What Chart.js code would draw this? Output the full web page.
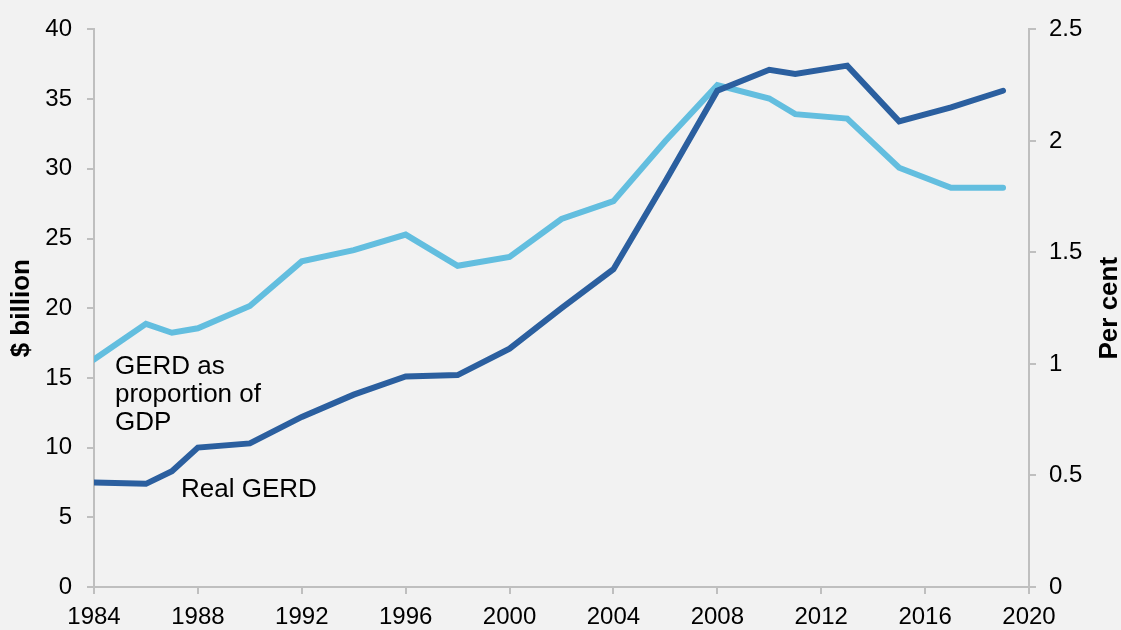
<!DOCTYPE html>
<html>
<head>
<meta charset="utf-8">
<script src="https://cdn.jsdelivr.net/npm/chart.js@4/dist/chart.umd.min.js"></script>
<style>
  html, body { margin: 0; padding: 0; background: #f2f2f2; }
  #wrap { width: 1121px; height: 630px; }
</style>
</head>
<body>
<div id="wrap"><canvas id="c" width="1121" height="630"></canvas></div>
<script>
// ---- Data ----
const years = [1984, 1986, 1987, 1988, 1990, 1992, 1994, 1996, 1998, 2000, 2002, 2004, 2006, 2008, 2010, 2011, 2013, 2015, 2017, 2019];
const realGerd = [7.5, 7.4, 8.3, 10.0, 10.3, 12.2, 13.8, 15.1, 15.2, 17.1, 20.0, 22.8, 29.1, 35.6, 37.1, 36.8, 37.4, 33.4, 34.4, 35.6];
const gerdPctGdp = [1.02, 1.18, 1.14, 1.16, 1.26, 1.46, 1.51, 1.58, 1.44, 1.48, 1.65, 1.73, 2.0, 2.25, 2.19, 2.12, 2.10, 1.88, 1.79, 1.79];

const xTicks = [1984, 1988, 1992, 1996, 2000, 2004, 2008, 2012, 2016, 2020];
const leftTicks = [0, 5, 10, 15, 20, 25, 30, 35, 40];
const rightTicks = [0, 0.5, 1, 1.5, 2, 2.5];

const seriesNames = ['Real GERD', 'GERD as proportion of GDP'];
const leftTitle = '$ billion';
const rightTitle = 'Per cent';

// ---- Styles ----
const FONT = "'Liberation Sans', Arial, sans-serif";
const AXIS_COLOR = '#bfbfbf';
const DARK = '#2b5f9f';
const LIGHT = '#63bedf';

const toPoints = (xs, ys) => xs.map((x, i) => ({ x: x, y: ys[i] }));

const bgPlugin = {
  id: 'bg',
  beforeDraw(chart) {
    const ctx = chart.ctx;
    ctx.save();
    ctx.fillStyle = '#f2f2f2';
    ctx.fillRect(0, 0, chart.width, chart.height);
    ctx.restore();
  }
};

const textPlugin = {
  id: 'texts',
  afterDraw(chart) {
    const ctx = chart.ctx;
    const a = chart.chartArea;
    ctx.save();
    ctx.fillStyle = '#000';
    ctx.textBaseline = 'alphabetic';
    ctx.textAlign = 'left';
    ctx.font = "26px " + FONT;
    const gx = a.left + 21;
    ctx.fillText('GERD as', gx, 374);
    ctx.fillText('proportion of', gx, 402);
    ctx.fillText('GDP', gx, 430);
    ctx.fillText('Real GERD', a.left + 87, 497);
    // right axis title, reading bottom-to-top
    ctx.font = "bold 26px " + FONT;
    ctx.translate(1110, (a.top + a.bottom) / 2);
    ctx.rotate(-Math.PI / 2);
    ctx.textAlign = 'center';
    ctx.textBaseline = 'middle';
    ctx.fillText(rightTitle, 0, 0);
    ctx.restore();
  }
};

const gridOpts = {
  display: true,
  drawOnChartArea: false,
  drawTicks: true,
  tickLength: 7,
  color: AXIS_COLOR,
  lineWidth: 2
};
const borderOpts = { display: true, color: AXIS_COLOR, width: 2 };
const tickFont = { family: FONT, size: 24 };

new Chart(document.getElementById('c'), {
  type: 'line',
  data: {
    datasets: [
      {
        label: seriesNames[0],
        data: toPoints(years, realGerd),
        yAxisID: 'y',
        borderColor: DARK,
        backgroundColor: DARK,
        borderWidth: 6,
        pointRadius: 0,
        tension: 0,
        borderJoinStyle: 'miter',
        borderCapStyle: 'round',
        order: 1
      },
      {
        label: seriesNames[1],
        data: toPoints(years, gerdPctGdp),
        yAxisID: 'y2',
        borderColor: LIGHT,
        backgroundColor: LIGHT,
        borderWidth: 6,
        pointRadius: 0,
        tension: 0,
        borderJoinStyle: 'miter',
        borderCapStyle: 'round',
        order: 2
      }
    ]
  },
  options: {
    responsive: false,
    animation: false,
    devicePixelRatio: 1,
    layout: { padding: { top: 28, left: 0, right: 0, bottom: 0 } },
    plugins: {
      legend: { display: false },
      tooltip: { enabled: false },
      title: { display: false }
    },
    scales: {
      x: {
        type: 'linear',
        min: xTicks[0],
        max: xTicks[xTicks.length - 1],
        grid: gridOpts,
        border: borderOpts,
        afterBuildTicks(scale) { scale.ticks = xTicks.map(v => ({ value: v })); },
        afterFit(scale) { scale.height = 43; },
        ticks: {
          font: tickFont,
          color: '#000',
          padding: 9,
          maxRotation: 0,
          autoSkip: false,
          callback: v => String(v)
        }
      },
      y: {
        type: 'linear',
        position: 'left',
        min: leftTicks[0],
        max: leftTicks[leftTicks.length - 1],
        grid: gridOpts,
        border: borderOpts,
        afterBuildTicks(scale) { scale.ticks = leftTicks.map(v => ({ value: v })); },
        afterFit(scale) { scale.width = 94; },
        title: {
          display: true,
          text: leftTitle,
          color: '#000',
          font: { family: FONT, size: 26, weight: 'bold' },
          padding: { top: 6, bottom: 0 }
        },
        ticks: {
          font: tickFont,
          color: '#000',
          padding: 15,
          callback: v => String(v)
        }
      },
      y2: {
        type: 'linear',
        position: 'right',
        min: rightTicks[0],
        max: rightTicks[rightTicks.length - 1],
        grid: gridOpts,
        border: borderOpts,
        afterBuildTicks(scale) { scale.ticks = rightTicks.map(v => ({ value: v })); },
        afterFit(scale) { scale.width = 92; },
        ticks: {
          font: tickFont,
          color: '#000',
          padding: 13,
          callback: v => String(v)
        }
      }
    }
  },
  plugins: [bgPlugin, textPlugin]
});
</script>
</body>
</html>
